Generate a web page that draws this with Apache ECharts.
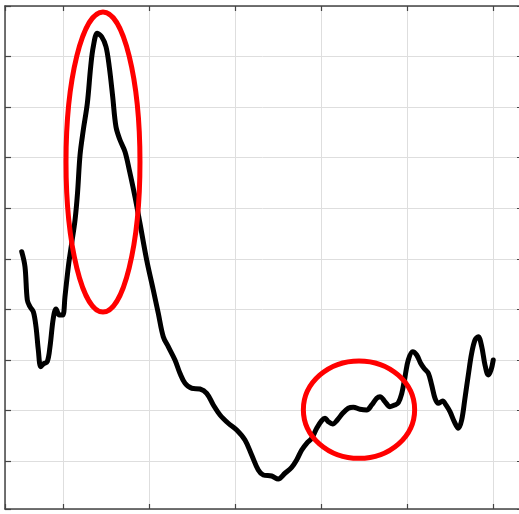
<!DOCTYPE html>
<html>
<head>
<meta charset="utf-8">
<script src="https://cdn.jsdelivr.net/npm/echarts@6/dist/echarts.min.js"></script>
<style>
  html, body { margin: 0; padding: 0; background: #ffffff; overflow: hidden; }
  #chart { width: 519px; height: 514px; }
</style>
</head>
<body>
<div id="chart"></div>
<script>
// Curve samples (x in grid units, y in grid units)
const xValues = [0.520,0.558,0.585,0.616,0.655,0.686,0.713,0.741,0.771,0.817,
  0.849,0.887,0.919,0.957,0.997,1.023,1.062,1.101,1.140,1.169,
  1.198,1.236,1.283,1.322,1.352,1.399,1.450,1.500,1.538,1.578,
  1.616,1.663,1.721,1.771,1.837,1.895,1.973,2.050,2.108,2.166,
  2.224,2.302,2.360,2.419,2.497,2.593,2.671,2.748,2.826,2.922,
  3.020,3.116,3.194,3.271,3.329,3.427,3.503,3.581,3.659,3.717,
  3.776,3.834,3.892,3.950,4.008,4.047,4.085,4.136,4.190,4.252,
  4.317,4.376,4.453,4.531,4.590,4.648,4.686,4.744,4.802,4.860,
  4.899,4.938,4.977,5.015,5.066,5.113,5.159,5.198,5.248,5.287,
  5.326,5.364,5.415,5.453,5.500,5.550,5.597,5.636,5.674,5.713,
  5.752,5.791,5.829,5.869,5.907,5.945,5.977,6.003];
const yValues = [4.140,3.843,3.184,3.052,2.953,2.656,2.195,1.865,1.919,1.964,
  2.261,2.822,3.006,2.888,2.888,3.250,3.843,4.306,4.767,5.300,
  6.050,6.547,7.075,7.799,8.194,8.459,8.392,8.194,7.799,7.205,
  6.612,6.349,6.118,5.756,5.227,4.701,3.976,3.382,2.921,2.458,
  2.261,1.998,1.735,1.537,1.438,1.424,1.339,1.108,0.910,0.746,
  0.613,0.415,0.119,-0.178,-0.277,-0.297,-0.356,-0.243,-0.125,0.020,
  0.218,0.350,0.449,0.647,0.797,0.845,0.777,0.732,0.811,0.943,
  1.042,1.062,1.023,1.009,1.108,1.240,1.272,1.173,1.074,1.108,
  1.153,1.325,1.667,1.998,2.162,2.097,1.932,1.833,1.735,1.503,
  1.240,1.141,1.187,1.108,0.975,0.777,0.647,0.811,1.240,1.701,
  2.130,2.393,2.458,2.261,1.899,1.701,1.800,1.998];

// Annotation ellipses: center x, center y, radius x, radius y (grid units)
const ellipseCx = [1.465, 4.442];
const ellipseCy = [5.914, 1.015];
const ellipseRx = [0.430, 0.647];
const ellipseRy = [2.967, 0.963];

// Axis ranges
const xRange = [0.3256, 6.349];
const yRange = [-0.95, 9];

const lineData = xValues.map((x, i) => [x, yValues[i]]);
const ellipseData = ellipseCx.map((cx, i) => [cx, ellipseCy[i], ellipseRx[i], ellipseRy[i]]);

const axisColor = '#444444';
const gridColor = '#dedede';

function makeX(pos, primary) {
  return {
    type: 'value', position: pos, min: xRange[0], max: xRange[1],
    minInterval: 1, maxInterval: 1, splitNumber: 6,
    axisLine: { show: true, onZero: false, lineStyle: { color: axisColor, width: 1.5 } },
    axisTick: { show: true, inside: true, length: 5, lineStyle: { color: axisColor, width: 1.2 } },
    axisLabel: { show: false },
    splitLine: { show: primary, showMaxLine: false, lineStyle: { color: gridColor, width: 1 } }
  };
}
function makeY(pos, primary) {
  return {
    type: 'value', position: pos, min: yRange[0], max: yRange[1],
    minInterval: 1, maxInterval: 1, splitNumber: 10,
    axisLine: { show: primary, onZero: false, lineStyle: { color: axisColor, width: 1.5 } },
    axisTick: { show: true, inside: true, length: 6, lineStyle: { color: axisColor, width: 1.2 } },
    axisLabel: { show: false },
    splitLine: { show: primary, lineStyle: { color: gridColor, width: 1 } }
  };
}

const chart = echarts.init(document.getElementById('chart'), null, { renderer: 'canvas' });
chart.setOption({
  animation: false,
  backgroundColor: '#ffffff',
  grid: { left: 5, top: 6, right: -4, bottom: 5, containLabel: false, outerBoundsMode: 'none' },
  xAxis: [makeX('bottom', true), makeX('top', false)],
  yAxis: [makeY('left', true), makeY('right', false)],
  series: [
    {
      type: 'line', data: lineData, xAxisIndex: 0, yAxisIndex: 0,
      smooth: 0.35, showSymbol: false, symbol: 'none',
      lineStyle: { color: '#000000', width: 5, cap: 'round', join: 'round' },
      z: 3
    },
    {
      type: 'custom', data: ellipseData, xAxisIndex: 0, yAxisIndex: 0,
      encode: { x: 0, y: 1 }, clip: false, z: 5,
      renderItem: function (params, api) {
        const c = api.coord([api.value(0), api.value(1)]);
        const s = api.size([api.value(2), api.value(3)]);
        return {
          type: 'ellipse',
          shape: { cx: c[0], cy: c[1], rx: s[0], ry: s[1] },
          style: { fill: 'none', stroke: '#ff0000', lineWidth: 5 }
        };
      }
    }
  ]
});
</script>
</body>
</html>
